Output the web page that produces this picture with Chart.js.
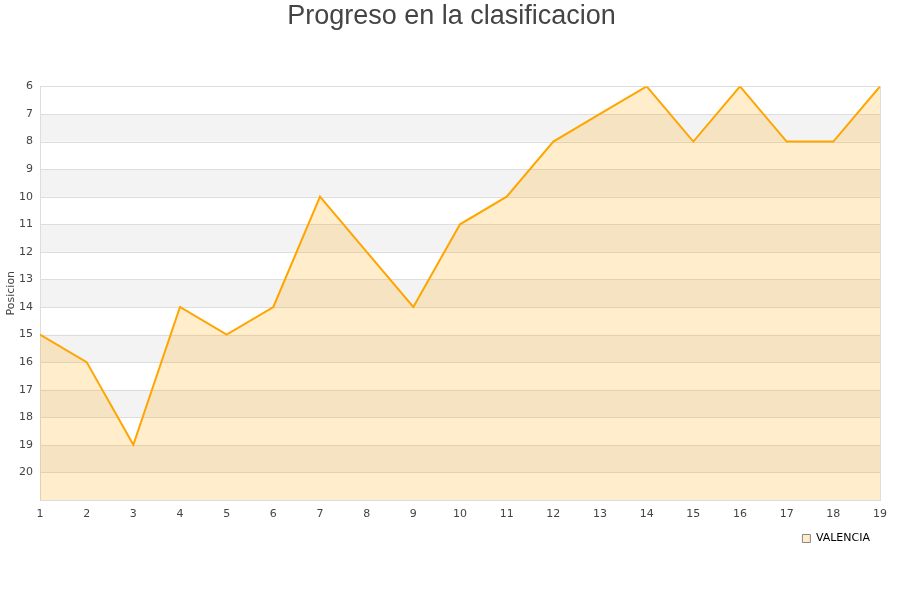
<!DOCTYPE html>
<html>
<head>
<meta charset="utf-8">
<script src="https://cdn.jsdelivr.net/npm/chart.js@4/dist/chart.umd.min.js"></script>
<style>
  html, body { margin: 0; padding: 0; background: #fff; }
  #wrap { width: 900px; height: 600px; }
</style>
</head>
<body>
<div id="wrap"><canvas id="posChart" width="900" height="600"></canvas></div>
<script>
const jornadas = [1, 2, 3, 4, 5, 6, 7, 8, 9, 10, 11, 12, 13, 14, 15, 16, 17, 18, 19];
const posiciones = [15, 16, 19, 14, 15, 14, 10, 12, 14, 11, 10, 8, 7, 6, 8, 6, 8, 8, 6];
const equipo = 'VALENCIA';

// alternating grey bands behind the data, plus the frame
const bandsPlugin = {
  id: 'bands',
  beforeDatasetsDraw(chart) {
    const { ctx, chartArea: a, scales: { y } } = chart;
    ctx.save();
    ctx.fillStyle = '#f3f3f3';
    for (let v = 7; v < 21; v += 2) {
      const y1 = y.getPixelForValue(v), y2 = y.getPixelForValue(v + 1);
      ctx.fillRect(a.left, y1, a.right - a.left, y2 - y1);
    }
    ctx.strokeStyle = '#dddddd';
    ctx.lineWidth = 1;
    for (let v = 6; v <= 21; v++) {
      const py = Math.round(y.getPixelForValue(v)) + 0.5;
      ctx.beginPath();
      ctx.moveTo(a.left, py);
      ctx.lineTo(a.right, py);
      ctx.stroke();
    }
    ctx.strokeRect(Math.round(a.left) + 0.5, Math.round(a.top) + 0.5,
      Math.round(a.right - a.left), Math.round(a.bottom - a.top));
    ctx.restore();
  }
};

const tickFont = { family: 'DejaVu Sans, sans-serif', size: 11 };

const ctx = document.getElementById('posChart').getContext('2d');
const posChart = new Chart(ctx, {
  type: 'line',
  data: {
    datasets: [{
      label: equipo,
      data: jornadas.map((j, i) => ({ x: j, y: posiciones[i] })),
      borderColor: '#ffa500',
      backgroundColor: 'rgba(255, 165, 0, 0.2)',
      borderWidth: 2,
      pointRadius: 0,
      tension: 0,
      fill: { value: 21 }
    }]
  },
  options: {
    responsive: false,
    animation: false,
    layout: { padding: { left: 3, right: 0, top: 0, bottom: 46 } },
    plugins: {
      title: {
        display: true,
        text: 'Progreso en la clasificacion',
        color: '#444',
        font: { family: 'Liberation Sans, Arial, sans-serif', size: 27, weight: 'normal' },
        padding: { top: 0, bottom: 54 }
      },
      legend: {
        position: 'bottom',
        align: 'end',
        fullSize: false,
        labels: {
          boxWidth: 8,
          boxHeight: 8,
          color: '#111',
          font: tickFont,
          generateLabels(chart) {
            return [{
              text: equipo,
              fillStyle: '#ffebc8',
              strokeStyle: '#888',
              lineWidth: 1,
              datasetIndex: 0
            }];
          }
        }
      },
      tooltip: { enabled: false }
    },
    scales: {
      x: {
        type: 'linear',
        min: 1,
        max: 19,
        grid: { display: false, drawTicks: false },
        border: { display: false },
        ticks: { stepSize: 1, color: '#444', font: tickFont, maxRotation: 0, padding: 8 },
        afterFit(scale) { scale.height = 23; }
      },
      y: {
        reverse: true,
        min: 6,
        max: 21,
        grid: { display: false, drawTicks: false },
        border: { display: false },
        title: { display: true, text: 'Posicion', color: '#444', font: tickFont, padding: 1.5 },
        ticks: {
          stepSize: 1,
          color: '#444',
          font: tickFont,
          padding: 7,
          callback: v => (v === 21 ? '' : v)
        },
        afterFit(scale) { scale.width = 37; }
      },
      // empty right margin so the title stays centred on the page
      yRight: {
        position: 'right',
        grid: { display: false, drawTicks: false },
        border: { display: false },
        ticks: { display: false },
        afterFit(scale) { scale.width = 20; }
      }
    }
  },
  plugins: [bandsPlugin]
});
</script>
</body>
</html>
